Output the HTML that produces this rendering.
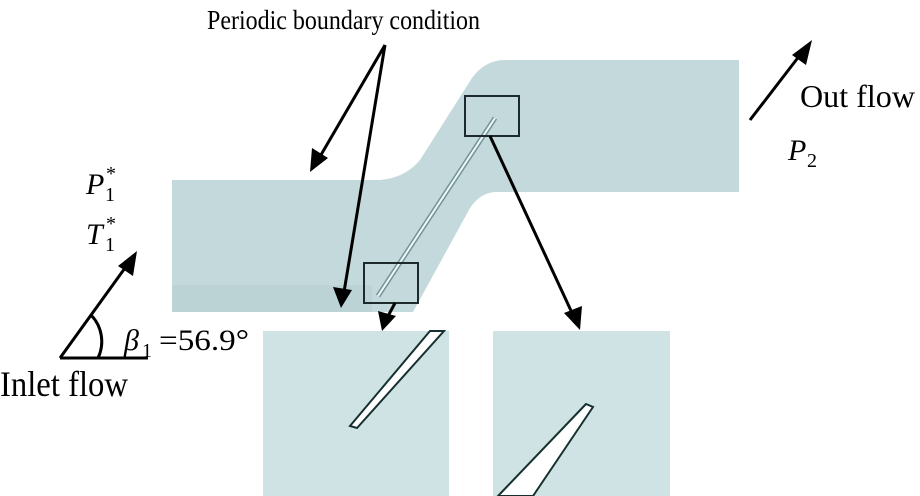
<!DOCTYPE html>
<html><head><meta charset="utf-8"><style>
body{margin:0;background:#fff;}
svg{display:block;font-family:"Liberation Serif",serif;}
</style></head><body>
<svg width="920" height="496" viewBox="0 0 920 496" xmlns="http://www.w3.org/2000/svg">
<path d="M172,180 L380,180 Q405,178 420,160 L472,78 Q485,60 505,60 L739,60 L739,192 L495,192 Q480,193 470,208 L413,312 L172,312 Z" fill="#c3d9dc"/>
<rect x="172" y="285" width="200" height="27" fill="#bcd3d6"/>
<line x1="495" y1="118" x2="378" y2="296" stroke="#6f9499" stroke-width="5"/>
<line x1="495" y1="118" x2="378" y2="296" stroke="#f2f6f6" stroke-width="2"/>
<rect x="465" y="96" width="54" height="40" fill="none" stroke="#1d2a2c" stroke-width="2"/>
<rect x="364" y="263" width="54" height="40" fill="none" stroke="#1d2a2c" stroke-width="2"/>
<rect x="263" y="331" width="186" height="165" fill="#cfe3e4"/>
<polygon points="430,331 444,331 357,428 350,426" fill="#fff" stroke="#15302f" stroke-width="2"/>
<rect x="493" y="331" width="177" height="165" fill="#cfe3e4"/>
<polygon points="586,404 593,407 533,496 498,496" fill="#fff" stroke="#15302f" stroke-width="2"/>
<g stroke="#000" stroke-width="3" fill="none">
<line x1="385" y1="45" x2="318" y2="160"/>
<line x1="385" y1="45" x2="344" y2="292"/>
<line x1="395" y1="303" x2="387" y2="318"/>
<line x1="490" y1="136" x2="573" y2="315"/>
<line x1="750" y1="120" x2="800" y2="55"/>
<line x1="60" y1="358" x2="125" y2="268"/>
<line x1="60" y1="358" x2="148" y2="358"/>
<path d="M91,315 A38,38 0 0 1 98,358"/>
</g>
<g fill="#000">
<polygon points="310,172 312,148 328,158"/>
<polygon points="341,308 333,287 352,290"/>
<polygon points="382,331 378,311 396,316"/>
<polygon points="580,330 564,313 582,306"/>
<polygon points="812,40 806,65 792,55"/>
<polygon points="137,251 133,276 118,266"/>
</g>
<g font-size="30" fill="#000">
<text x="207" y="29" font-size="27" textLength="273" lengthAdjust="spacingAndGlyphs">Periodic boundary condition</text>
<text x="800" y="107" font-size="32" textLength="115" lengthAdjust="spacingAndGlyphs">Out flow</text>
<text x="788" y="160" font-style="italic" font-size="30">P</text><text x="807" y="167" font-size="20">2</text>
<text x="86" y="194" font-style="italic">P</text><text x="105" y="201" font-size="20">1</text><text x="106" y="180" font-size="20">*</text>
<text x="86" y="244" font-style="italic">T</text><text x="105" y="251" font-size="20">1</text><text x="106" y="230" font-size="20">*</text>
<text x="124" y="350" font-style="italic">β</text><text x="142" y="357" font-size="20">1</text><text x="159" y="350" textLength="90" lengthAdjust="spacingAndGlyphs">=56.9°</text>
<text x="0" y="396" font-size="36" textLength="128" lengthAdjust="spacingAndGlyphs">Inlet flow</text>
</g>
</svg>
</body></html>
